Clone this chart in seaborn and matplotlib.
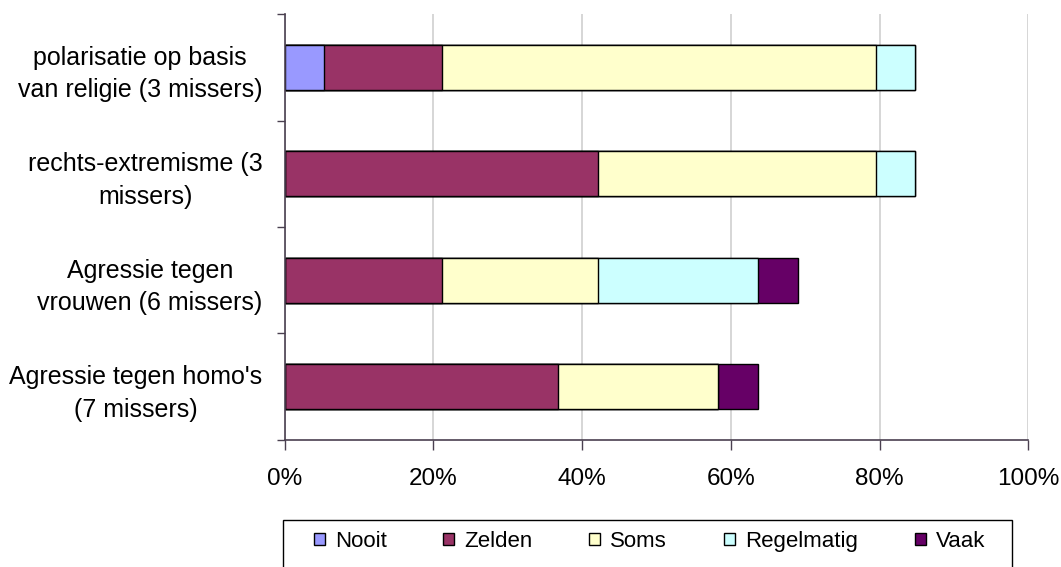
import numpy as np
import pandas as pd
import matplotlib
matplotlib.use("Agg")
import matplotlib.pyplot as plt
from matplotlib.patches import Patch, Rectangle
from matplotlib.ticker import FuncFormatter
import seaborn as sns

sns.set_style("white")
plt.rcParams['font.family'] = ['Liberation Sans', 'DejaVu Sans']
plt.rcParams['text.color'] = 'black'
plt.rcParams['xtick.labelcolor'] = 'black'
plt.rcParams['ytick.labelcolor'] = 'black'

# categories, top to bottom
categories = ["polarisatie op basis\nvan religie (3 missers)",
              "rechts-extremisme (3\nmissers)",
              "Agressie tegen\nvrouwen (6 missers)",
              "Agressie tegen homo's\n(7 missers)"]
series = ["Nooit", "Zelden", "Soms", "Regelmatig", "Vaak"]

# percentages per answer
nooit = [5.3, 0, 0, 0]
zelden = [15.8, 42.1, 21.1, 36.8]
soms = [58.4, 37.4, 21.0, 21.5]
regelmatig = [5.2, 5.2, 21.5, 0]
vaak = [0, 0, 5.4, 5.4]

colors = ["#9999FF", "#993366", "#FFFFCC", "#CCFFFF", "#660066"]

df = pd.DataFrame({"cat": categories, "Nooit": nooit, "Zelden": zelden,
                   "Soms": soms, "Regelmatig": regelmatig, "Vaak": vaak})
cum = df[series].cumsum(axis=1)

fig = plt.figure(figsize=(10.61, 5.67), dpi=100)
ax = fig.add_axes([0.2683, 0.224, 0.7009, 0.7513])

# stacked bars: draw cumulative totals from the outer segment inwards
for s, c in reversed(list(zip(series, colors))):
    sns.barplot(x=cum[s], y=df["cat"], orient="h", color=c, width=0.42,
                edgecolor="black", linewidth=1, saturation=1, ax=ax)

ax.set_xlim(0, 100)
ax.set_ylim(3.5, -0.5)
ax.set_xlabel("")
ax.set_ylabel("")
ax.set_xticks(np.arange(0, 101, 20))
ax.xaxis.set_major_formatter(FuncFormatter(lambda v, p: f"{v:.0f}%"))
ax.grid(axis="x", color="#d0d0d0", linewidth=1.2)
ax.set_axisbelow(True)

for sp in ["top", "right"]:
    ax.spines[sp].set_visible(False)
for sp in ["left", "bottom"]:
    ax.spines[sp].set_color("#4a4050")
    ax.spines[sp].set_linewidth(1.2)

ax.tick_params(axis="x", direction="out", length=7, width=1, color="#4a4050",
               labelsize=17.5, pad=13, bottom=True)
ax.tick_params(axis="y", which="major", length=0, labelsize=18, pad=16)
ax.set_yticks([-0.5, 0.5, 1.5, 2.5, 3.5], minor=True)
ax.tick_params(axis="y", which="minor", direction="out", length=6, width=1,
               color="#4a4050", left=True)
for lab in ax.get_yticklabels():
    lab.set_multialignment("center")
    lab.set_linespacing(1.45)

# legend frame drawn separately, running off the bottom edge
fig.patches.append(Rectangle((0.2664, -0.02), 0.687, 0.1029,
                             transform=fig.transFigure, facecolor="white",
                             edgecolor="black", linewidth=1, zorder=0))

handles = [Patch(facecolor=c, edgecolor="black", linewidth=1) for c in colors]
leg = fig.legend(handles, series, loc="center", ncol=5, mode="expand",
                 bbox_to_anchor=(0.2955, 0.0446, 0.633, 0.0),
                 fontsize=16, frameon=False, borderpad=0,
                 handlelength=0.5, handleheight=0.45, handletextpad=0.45,
                 borderaxespad=0)

fig.savefig("out.png", dpi=100)
